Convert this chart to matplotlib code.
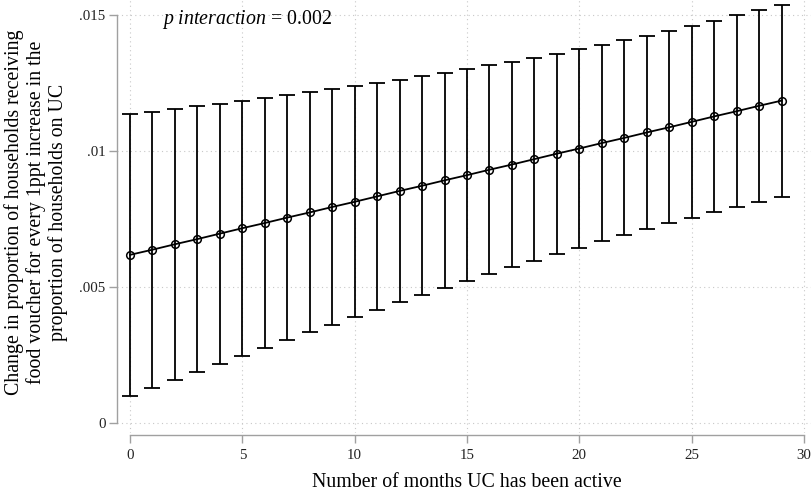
import numpy as np
import matplotlib
matplotlib.use('Agg')
import matplotlib.pyplot as plt

plt.rcParams['font.family'] = 'Liberation Serif'
plt.rcParams['mathtext.fontset'] = 'custom'
plt.rcParams['mathtext.rm'] = 'Liberation Serif'
plt.rcParams['mathtext.it'] = 'Liberation Serif:italic'

# months UC active and marginal effect with 95% CI
months = list(range(30))
effect = [0.00618, 0.00637, 0.00657, 0.00676, 0.00696, 0.00716, 0.00735, 0.00755,
          0.00774, 0.00794, 0.00813, 0.00833, 0.00853, 0.00872, 0.00892, 0.00911,
          0.00931, 0.00950, 0.00970, 0.00990, 0.01009, 0.01029, 0.01048, 0.01068,
          0.01087, 0.01107, 0.01127, 0.01146, 0.01166, 0.01185]
ci_upper = [0.01136, 0.01144, 0.01155, 0.01165, 0.01174, 0.01185, 0.01195, 0.01205,
            0.01216, 0.01227, 0.01239, 0.01250, 0.01261, 0.01274, 0.01288, 0.01300,
            0.01315, 0.01328, 0.01343, 0.01358, 0.01374, 0.01391, 0.01407, 0.01424,
            0.01441, 0.01460, 0.01479, 0.01499, 0.01517, 0.01538]
ci_lower = [0.00099, 0.00130, 0.00159, 0.00187, 0.00217, 0.00246, 0.00276, 0.00305,
            0.00333, 0.00361, 0.00389, 0.00415, 0.00444, 0.00471, 0.00495, 0.00521,
            0.00548, 0.00573, 0.00597, 0.00621, 0.00644, 0.00668, 0.00690, 0.00712,
            0.00734, 0.00754, 0.00775, 0.00794, 0.00814, 0.00832]

xticks = [0, 5, 10, 15, 20, 25, 30]
yticks = [0, 0.005, 0.01, 0.015]
ytick_labels = ['0', '.005', '.01', '.015']

effect = np.array(effect)
yerr = [effect - np.array(ci_lower), np.array(ci_upper) - effect]

W, H = 811, 492
fig = plt.figure(figsize=(W / 100, H / 100), dpi=100)
ax = fig.add_axes([117 / W, (H - 433) / H, 1 - 117 / W, 433 / H])

ax.errorbar(months, effect, yerr=yerr, fmt='none', ecolor='black',
            elinewidth=1.3, capsize=5.5, capthick=1.3, zorder=3)
ax.plot(months, effect, color='black', lw=1.3, marker='o', ms=5.5,
        mfc='none', mec='black', mew=1.1, zorder=4)

ax.set_xlim(-0.579, 30.31)
ax.set_ylim(-0.00037, 0.01555)
ax.set_xticks(xticks)
ax.set_yticks(yticks)
ax.set_yticklabels(ytick_labels)
ax.grid(True, color='#c8c8c8', linestyle=(0, (1, 3)), linewidth=0.8)
ax.set_axisbelow(True)

for s in ['top', 'right']:
    ax.spines[s].set_visible(False)
ax.spines['left'].set_bounds(0, 0.015)
ax.spines['bottom'].set_bounds(0, 30)
ax.spines['bottom'].set_position(('outward', 1.5))
for s in ['left', 'bottom']:
    ax.spines[s].set_color('#a0a0a0')
    ax.spines[s].set_linewidth(1.0)
ax.tick_params(colors='#a0a0a0', labelcolor='#222222', labelsize=10.7,
               length=5.8, width=1.0, pad=2.5)
ax.tick_params(axis='x', pad=4.5)

ax.text(1.41, 0.014667, r'$p\ interaction$ = 0.002', fontsize=14.3,
        va='baseline', ha='left')

fig.text(36 / W, 1 - 212 / H,
         'Change in proportion of households receiving\n'
         'food voucher for every 1ppt increase in the\n'
         'proportion of households on UC',
         rotation=90, ha='center', va='center', multialignment='center',
         fontsize=14.3, linespacing=1.12)
fig.text(467 / W, 1 - 487 / H, 'Number of months UC has been active',
         ha='center', va='baseline', fontsize=14.3)

plt.savefig('out.png', dpi=100)
